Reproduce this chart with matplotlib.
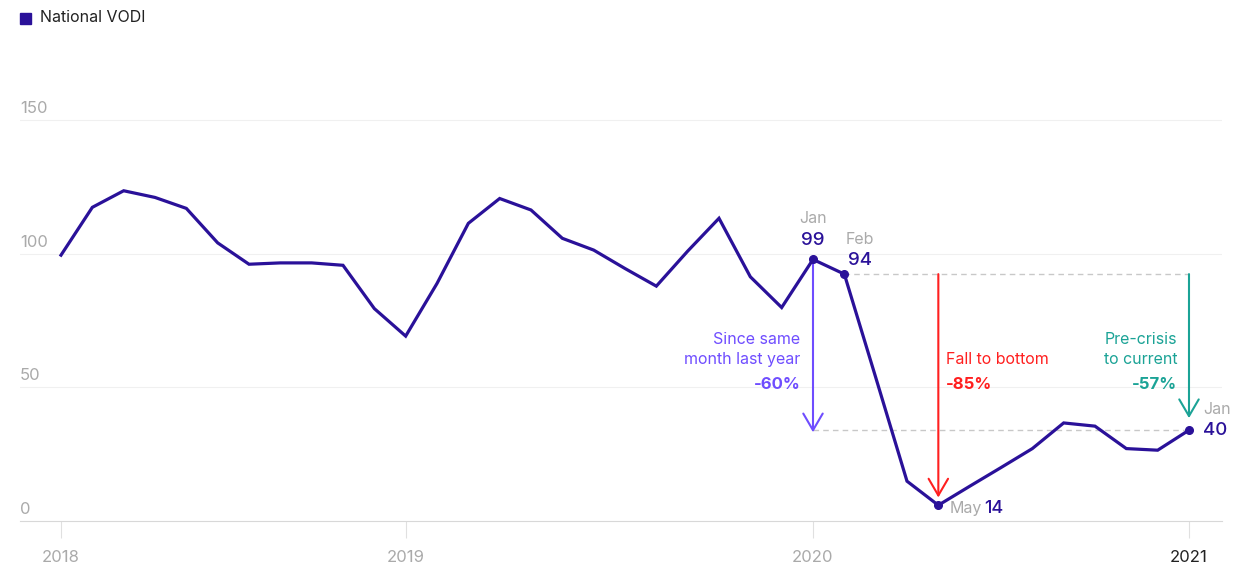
import matplotlib
matplotlib.use("Agg")
import matplotlib.pyplot as plt

# monthly index values, Jan 2018 .. Jan 2021
months = list(range(37))
vodi = [99.5, 117.4, 123.6, 121.1, 117.0, 104.1, 96.1, 96.6, 96.6, 95.7, 79.5, 69.2,
        88.9, 111.4, 120.7, 116.4, 105.8, 101.4, 94.5, 87.9, 101.0, 113.3, 91.4, 79.9,
        97.9, 92.4, 53.8, 14.9, 5.9, 13.0, 20.0, 27.1, 36.7, 35.5, 27.1, 26.5, 34.0]

year_ticks = [0, 11, 24, 36]
year_labels = ["2018", "2019", "2020", "2021"]
y_ticks = [0, 50, 100, 150]

# highlighted points: month index, month name, label shown
hl_idx = [24, 25, 28, 36]
hl_month = ["Jan", "Feb", "May", "Jan"]
hl_text = ["99", "94", "14", "40"]

LINE = "#2a1199"
PURPLE = "#6f4dff"
RED = "#ff1f1f"
TEAL = "#1ba396"
GREY = "#aaaaaa"

plt.rcParams['font.family'] = ['Inter', 'DejaVu Sans']

fig = plt.figure(figsize=(12.35, 5.66), dpi=100)
ax = fig.add_axes([20 / 1235, 1 - 521 / 566, 1202 / 1235, (521 - 93.5) / 566])

x0 = -(61 - 20) / 31.33
ax.set_xlim(x0, 36 + (1222 - 1189) / 31.33)
ax.set_ylim(0, 160)

# gridlines + y labels drawn by hand (labels sit above the lines)
for v in y_ticks[1:]:
    ax.axhline(v, color="#f0f0f0", lw=0.8, zorder=0)
for v in y_ticks:
    ax.annotate(str(v), (x0, v), xytext=(0, 3), textcoords="offset points",
                ha="left", va="bottom", color=GREY, fontsize=12)

for s in ["top", "right", "left"]:
    ax.spines[s].set_visible(False)
ax.spines["bottom"].set_color("#d8d8d8")
ax.set_yticks([])
ax.set_xticks(year_ticks)
ax.set_xticklabels(year_labels, fontsize=12)
ax.tick_params(axis="x", length=12, color="#e0e0e0", pad=9)
for lab in ax.get_xticklabels():
    lab.set_color(GREY)
ax.get_xticklabels()[-1].set_color("#222222")

# main line
ax.plot(months, vodi, color=LINE, lw=2.3, solid_joinstyle="miter", zorder=3)
ax.plot([months[i] for i in hl_idx], [vodi[i] for i in hl_idx], "o",
        color=LINE, ms=5.5, zorder=4)

# dashed reference lines
feb, jan20, may, jan21 = hl_idx[1], hl_idx[0], hl_idx[2], hl_idx[3]
ax.plot([feb, jan21], [vodi[feb], vodi[feb]], ls=(0, (4, 3)), color="#c8c8c8", lw=1, zorder=1)
ax.plot([jan20, jan21], [vodi[jan21], vodi[jan21]], ls=(0, (4, 3)), color="#c8c8c8", lw=1, zorder=1)

# arrows
def arrow(x, y1, y2, col):
    ax.annotate("", xy=(x, y2), xytext=(x, y1),
                arrowprops=dict(arrowstyle="->,head_length=0.6,head_width=0.35",
                                color=col, lw=1.5, mutation_scale=20,
                                shrinkA=0, shrinkB=0), zorder=2)

arrow(jan20, vodi[jan20], vodi[jan21] - 0.8, PURPLE)
arrow(may, vodi[feb], 8.8, RED)
arrow(jan21, vodi[feb], 38.5, TEAL)

# annotation texts
ax.text(23.6, 68.1, "Since same", ha="right", va="center", color=PURPLE, fontsize=11.5)
ax.text(23.6, 60.6, "month last year", ha="right", va="center", color=PURPLE, fontsize=11.5)
ax.text(23.6, 51.2, "-60%", ha="right", va="center", color=PURPLE, fontsize=12, fontweight="bold")
ax.text(28.25, 60.6, "Fall to bottom", ha="left", va="center", color=RED, fontsize=11.5)
ax.text(28.25, 51.2, "-85%", ha="left", va="center", color=RED, fontsize=12, fontweight="bold")
ax.text(35.62, 68.1, "Pre-crisis", ha="right", va="center", color=TEAL, fontsize=11.5)
ax.text(35.62, 60.6, "to current", ha="right", va="center", color=TEAL, fontsize=11.5)
ax.text(35.62, 51.2, "-57%", ha="right", va="center", color=TEAL, fontsize=12, fontweight="bold")

# point labels
ax.text(24, 113.3, hl_month[0], ha="center", va="center", color=GREY, fontsize=11.5)
ax.text(24, 105.1, hl_text[0], ha="center", va="center", color=LINE, fontsize=13.5, fontweight="medium")
ax.text(25.5, 105.4, hl_month[1], ha="center", va="center", color=GREY, fontsize=11.5)
ax.text(25.5, 97.6, hl_text[1], ha="center", va="center", color=LINE, fontsize=13.5, fontweight="medium")
ax.text(28.35, 4.8, hl_month[2], ha="left", va="center", color=GREY, fontsize=11.5)
ax.text(29.45, 4.8, hl_text[2], ha="left", va="center", color=LINE, fontsize=13, fontweight="medium")
ax.text(36.45, 41.8, hl_month[3], ha="left", va="center", color=GREY, fontsize=11.5)
ax.text(36.45, 34.0, hl_text[3], ha="left", va="center", color=LINE, fontsize=13.5, fontweight="medium")

# legend
fig.patches.append(plt.Rectangle((20 / 1235, 1 - 24 / 566), 11 / 1235, 11 / 566,
                                 transform=fig.transFigure, color=LINE))
fig.text(40 / 1235, 1 - 18 / 566, "National VODI", ha="left", va="center",
         fontsize=11.5, color="#222222")

fig.savefig("out.png", dpi=100)
